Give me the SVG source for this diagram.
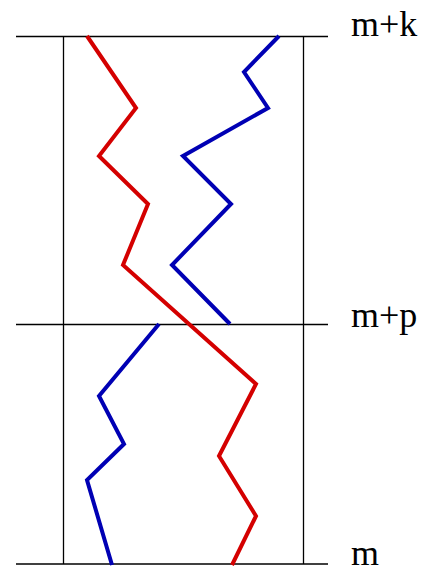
<svg xmlns="http://www.w3.org/2000/svg" width="428" height="568" viewBox="0 0 428 568">
<style>
.frame{stroke:#000;stroke-width:1.3;fill:none}
.path{fill:none;stroke-width:4;stroke-linejoin:miter;stroke-linecap:butt}
.red{stroke:#d40000}
.blue{stroke:#0000b4}
.lbl{font-family:"Liberation Serif",serif;font-size:36px;fill:#000}
</style>
<rect width="428" height="568" fill="#fff"/>
<g id="frame">
<line class="frame" x1="16" y1="36.5" x2="328" y2="36.5"/>
<line class="frame" x1="16" y1="324.5" x2="328" y2="324.5"/>
<line class="frame" x1="16" y1="564" x2="328" y2="564"/>
<line class="frame" x1="63.5" y1="36.5" x2="63.5" y2="564"/>
<line class="frame" x1="303.5" y1="36.5" x2="303.5" y2="564"/>
</g>
<g id="paths">
<polyline class="path red" points="87,36 136,108 99,156 148,204 123,265 256,384 219,456 256,516 232,565"/>
<polyline class="path blue" points="279,36 244,72 268,108 183,156 231,204 172,265 230,324"/>
<polyline class="path blue" points="159,324 99,396 124,444 87,480 112,565"/>
</g>
<g id="labels">
<text class="lbl" x="351" y="36">m+k</text>
<text class="lbl" x="351" y="327">m+p</text>
<text class="lbl" x="351" y="565">m</text>
</g>
</svg>
